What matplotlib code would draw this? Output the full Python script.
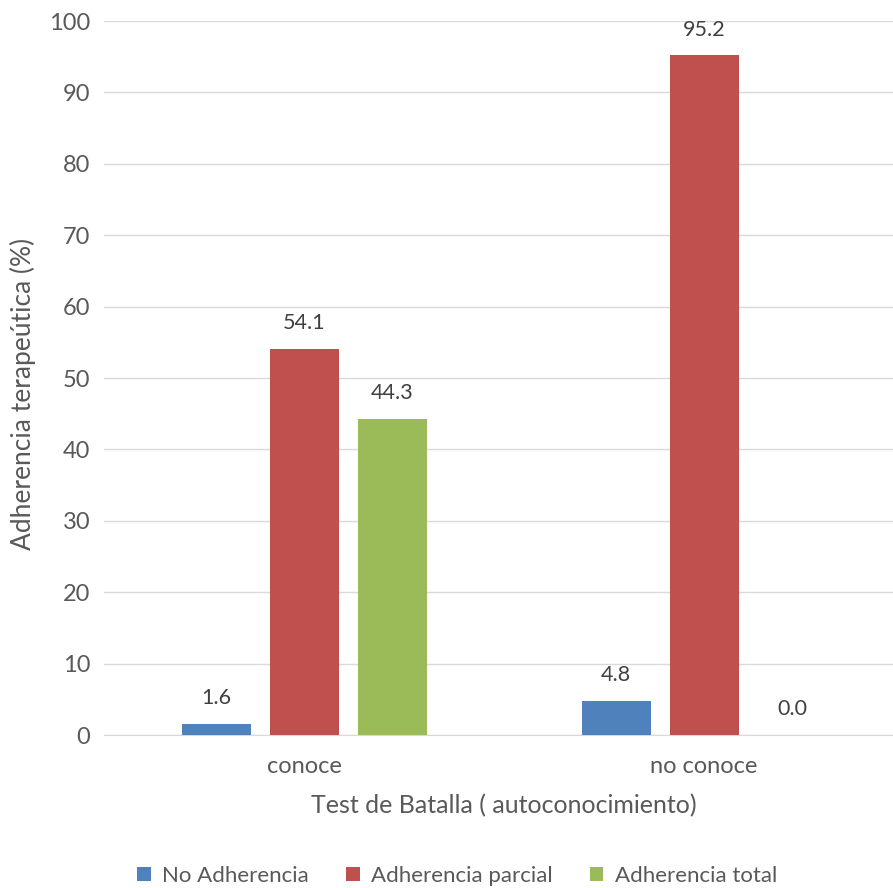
import matplotlib
matplotlib.use("Agg")
import matplotlib.pyplot as plt
import numpy as np

categories = ["conoce", "no conoce"]
series_names = ["No Adherencia", "Adherencia parcial", "Adherencia total"]
no_adherencia = [1.6, 4.8]
adherencia_parcial = [54.1, 95.2]
adherencia_total = [44.3, 0.0]
yticks = [0, 10, 20, 30, 40, 50, 60, 70, 80, 90, 100]

colors = ["#4F81BD", "#C0504D", "#9BBB59"]
text_color = "#595959"

plt.rcParams['font.family'] = ['Lato', 'DejaVu Sans']

fig = plt.figure(figsize=(8.93, 8.88), dpi=100)
ax = fig.add_axes([104/893, 153/888, 800/893, 714/888])

x = np.arange(len(categories))
width = 0.1725
offsets = [-0.22, 0.0, 0.22]
data = [no_adherencia, adherencia_parcial, adherencia_total]
for vals, off, c, name in zip(data, offsets, colors, series_names):
    bars = ax.bar(x + off, vals, width, color=c, label=name, zorder=3)
    for b, v in zip(bars, vals):
        ax.text(b.get_x() + b.get_width()/2, v + 2.2, f"{v:.1f}",
                ha="center", va="bottom", fontsize=15.5, color="#404040")

ax.set_xlim(-0.5, 1.5)
ax.set_ylim(0, 100)
ax.set_yticks(yticks)
ax.set_xticks(x)
ax.set_xticklabels(categories)
ax.grid(axis="y", color="#D9D9D9", linewidth=1, zorder=0)
for s in ["top", "right", "left"]:
    ax.spines[s].set_visible(False)
ax.spines["bottom"].set_color("#D9D9D9")
ax.tick_params(axis="both", length=0, labelsize=17, colors=text_color)
ax.tick_params(axis="y", pad=10)
ax.tick_params(axis="x", pad=15)
ax.set_ylabel("Adherencia terapeútica (%)", fontsize=19, color=text_color, labelpad=9, y=0.478)
ax.set_xlabel("Test de Batalla ( autoconocimiento)", fontsize=18, color=text_color, labelpad=12)

leg = fig.legend(loc="center", bbox_to_anchor=(457/893, 1 - 876/888), ncol=3,
                 frameon=False, fontsize=16, handlelength=0.6, handleheight=0.6,
                 columnspacing=1.7, handletextpad=0.5)
for t in leg.get_texts():
    t.set_color(text_color)

fig.savefig("out.png", dpi=100)
